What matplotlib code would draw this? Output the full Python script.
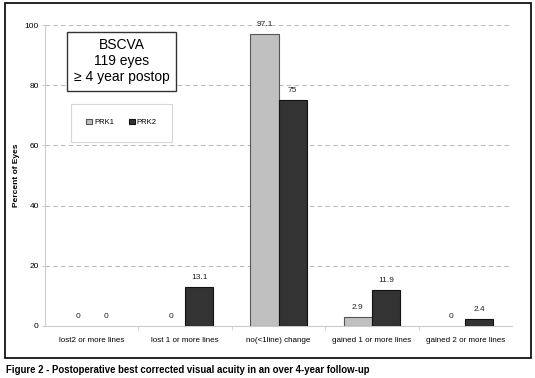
import matplotlib
matplotlib.use('Agg')
import matplotlib.pyplot as plt
from matplotlib.patches import Rectangle, Patch
import numpy as np

plt.rcParams['font.family'] = ['Liberation Sans', 'DejaVu Sans']

categories = ["lost2 or more lines", "lost 1 or more lines", "no(<1line) change",
              "gained 1 or more lines", "gained 2 or more lines"]
prk1 = [0, 0, 97.1, 2.9, 0]
prk2 = [0, 13.1, 75, 11.9, 2.4]
prk1_labels = ["0", "0", "97.1", "2.9", "0"]
prk2_labels = ["0", "13.1", "75", "11.9", "2.4"]

c1, e1 = '#c0c0c0', '#555555'
c2, e2 = '#333333', '#111111'

fig = plt.figure(figsize=(5.35, 3.78), dpi=100)
fig.patch.set_facecolor('white')

# outer frame
fig.add_artist(Rectangle((4.5/535, 1-358/378), 526.5/535, 355/378, transform=fig.transFigure,
                         fill=False, edgecolor='black', linewidth=1.2))

ax = fig.add_axes([45/535, 1-326/378, 467/535, 301/378])
x = np.arange(len(categories))
w = 0.30
b1 = ax.bar(x - w/2, prk1, w, color=c1, edgecolor=e1, linewidth=0.8, zorder=3)
b2 = ax.bar(x + w/2, prk2, w, color=c2, edgecolor=e2, linewidth=0.8, zorder=3)
# zero-height bars are not visible in the original
for bars, vals in ((b1, prk1), (b2, prk2)):
    for p, v in zip(bars, vals):
        if v == 0:
            p.set_visible(False)

for i in range(len(categories)):
    ax.text(x[i] - w/2, prk1[i] + 2, prk1_labels[i], ha='center', va='bottom', fontsize=6, color='#222222')
    ax.text(x[i] + w/2, prk2[i] + 2, prk2_labels[i], ha='center', va='bottom', fontsize=6, color='#222222')

ax.set_xlim(-0.5, len(categories) - 0.5)
ax.set_ylim(0, 100)
ax.set_yticks([0, 20, 40, 60, 80, 100])
ax.set_xticks(x)
ax.set_xticklabels(categories, fontsize=5.8)
ax.set_xticks(np.arange(len(categories) - 1) + 0.5, minor=True)
ax.tick_params(axis='x', which='major', length=0, pad=8)
ax.tick_params(axis='x', which='minor', length=3, color='#cccccc')
ax.tick_params(axis='y', labelsize=6, length=2.5, color='#cccccc', pad=2)
ax.yaxis.grid(True, linestyle=(0, (4, 3)), color='#bbbbbb', linewidth=0.8, zorder=0)
for s in ['top', 'right']:
    ax.spines[s].set_visible(False)
ax.spines['left'].set_color('#cccccc')
ax.spines['bottom'].set_color('#cccccc')
ax.set_ylabel("Percent of Eyes", fontsize=6, fontweight='bold')
ax.yaxis.set_label_coords(-0.054, 0.5)

ax.text(0.164, 0.88, "BSCVA\n119 eyes\n\u2265 4 year postop", transform=ax.transAxes,
        ha='center', va='center', fontsize=10, linespacing=1.2,
        bbox=dict(boxstyle='square,pad=0.45', facecolor='white', edgecolor='#333333', linewidth=1))

handles = [Patch(facecolor=c1, edgecolor=e1, linewidth=0.8),
           Patch(facecolor=c2, edgecolor=e2, linewidth=0.8)]
leg = ax.legend(handles, ['PRK1', 'PRK2'], loc='center', bbox_to_anchor=(0.164, 0.675), ncol=2,
                fontsize=5.5, frameon=True, fancybox=False, handlelength=0.7, handleheight=0.7,
                handletextpad=0.3, columnspacing=2.0, borderpad=2.0, borderaxespad=0)
leg.get_frame().set_edgecolor('#cccccc')
leg.get_frame().set_linewidth(0.8)

fig.text(6/535, 1-370/378, "Figure 2 - Postoperative best corrected visual acuity in an over 4-year follow-up",
         fontsize=6.9, fontweight='bold', va='center', ha='left')

fig.savefig('out.png', dpi=100)
